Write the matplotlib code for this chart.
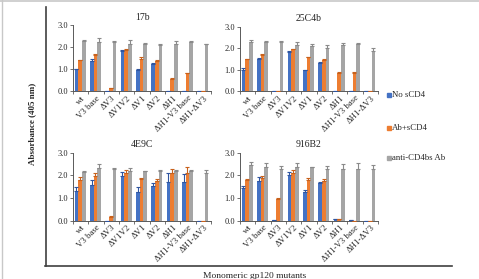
import numpy as np
import matplotlib
matplotlib.use("Agg")
import matplotlib.pyplot as plt
from matplotlib.lines import Line2D

plt.rcParams['font.family'] = ['Liberation Serif', 'DejaVu Serif']

mutants = ["wt", "V3 base", "\u0394V3", "\u0394V1V2", "\u0394V1", "\u0394V2",
           "\u0394H1", "\u0394H1-V3 base", "\u0394H1-\u0394V3"]
series_names = ["No sCD4", "Ab+sCD4", "anti-CD4bs Ab"]

# values per antibody panel: [no sCD4, Ab+sCD4, anti-CD4bs Ab]
v_17b = [
    [1.00, 1.39, 0.02, 1.83, 0.97, 1.23, 0.04, 0.02, 0.02],
    [1.42, 1.65, 0.18, 1.88, 1.47, 1.39, 0.58, 0.82, 0.02],
    [2.28, 2.25, 2.26, 2.18, 2.14, 2.13, 2.18, 2.26, 2.14],
]
e_17b = [
    [0.04, 0.08, 0.0, 0.05, 0.05, 0.05, 0.0, 0.0, 0.0],
    [0.02, 0.05, 0.0, 0.05, 0.08, 0.04, 0.03, 0.02, 0.0],
    [0.05, 0.18, 0.02, 0.14, 0.06, 0.02, 0.10, 0.02, 0.02],
]
v_25c4b = [
    [1.00, 1.48, 0.02, 1.83, 0.97, 1.33, 0.02, 0.02, 0.01],
    [1.50, 1.70, 0.02, 1.95, 1.58, 1.45, 0.85, 0.85, 0.01],
    [2.28, 2.28, 2.30, 2.15, 2.08, 2.03, 2.14, 2.18, 1.88],
]
e_25c4b = [
    [0.08, 0.06, 0.0, 0.04, 0.04, 0.04, 0.0, 0.0, 0.0],
    [0.02, 0.03, 0.0, 0.03, 0.03, 0.03, 0.06, 0.06, 0.0],
    [0.10, 0.06, 0.05, 0.12, 0.10, 0.10, 0.10, 0.06, 0.14],
]
v_4e9c = [
    [1.32, 1.59, 0.00, 1.97, 1.28, 1.54, 1.72, 1.70, 0.00],
    [1.78, 1.99, 0.18, 2.12, 1.82, 1.76, 2.09, 2.10, 0.00],
    [2.15, 2.32, 2.26, 2.20, 2.18, 2.18, 2.18, 2.18, 2.10],
]
e_4e9c = [
    [0.18, 0.20, 0.0, 0.16, 0.20, 0.12, 0.38, 0.38, 0.0],
    [0.16, 0.12, 0.02, 0.12, 0.08, 0.10, 0.18, 0.25, 0.0],
    [0.06, 0.16, 0.06, 0.12, 0.03, 0.04, 0.04, 0.04, 0.14],
]
v_916b2 = [
    [1.45, 1.76, 0.02, 2.00, 1.25, 1.65, 0.06, 0.02, 0.00],
    [1.80, 1.87, 0.96, 2.09, 1.80, 1.76, 0.08, 0.00, 0.00],
    [2.45, 2.38, 2.26, 2.35, 2.35, 2.26, 2.26, 2.30, 2.30],
]
e_916b2 = [
    [0.06, 0.15, 0.0, 0.16, 0.12, 0.04, 0.0, 0.0, 0.0],
    [0.04, 0.12, 0.04, 0.14, 0.10, 0.08, 0.0, 0.0, 0.0],
    [0.16, 0.18, 0.14, 0.20, 0.04, 0.14, 0.26, 0.24, 0.16],
]

titles = ["17b", "25C4b", "4E9C", "916B2"]
panel_vals = [v_17b, v_25c4b, v_4e9c, v_916b2]
panel_errs = [e_17b, e_25c4b, e_4e9c, e_916b2]

colors = ["#4472C4", "#ED7D31", "#A5A5A5"]
err_colors = ["#2F55A0", "#C8611C", "#8A8A8A"]
axis_col = "#595959"
text_col = "#262626"

W, H = 479, 279
fig = plt.figure(figsize=(W / 100, H / 100), dpi=100)

# axes boxes in pixels: (left, top of 3.0, right, bottom at 0.0)
boxes = [(73, 25.5, 211, 91.5), (240, 26.5, 378, 91.5),
         (73, 152.7, 211, 220.7), (240, 152.7, 378, 220.7)]

x = np.arange(len(mutants))
bw = 0.24
for k in range(4):
    l, t, r, b = boxes[k]
    ax = fig.add_axes([l / W, 1 - b / H, (r - l) / W, (b - t) / H])
    for i in range(3):
        pos = x + (i - 1) * bw - 0.04
        vals = np.array(panel_vals[k][i])
        errs = np.array(panel_errs[k][i])
        ax.bar(pos, vals, bw, color=colors[i], edgecolor="none", zorder=2)
        ax.errorbar(pos, vals, yerr=[np.zeros_like(errs), errs], fmt="none",
                    ecolor=err_colors[i], elinewidth=0.8, capsize=1.3,
                    capthick=0.8, zorder=3)
    ax.set_xlim(-0.5, len(mutants) - 0.5)
    ax.set_ylim(0, 3.0)
    ax.set_yticks([0, 1, 2, 3])
    ax.set_yticklabels(["0.0", "1.0", "2.0", "3.0"], fontsize=6, color=text_col)
    ax.set_xticks(x)
    ax.set_xticklabels(mutants, rotation=45, ha="right", rotation_mode="anchor",
                       fontsize=6.3, color=text_col)
    ax.tick_params(axis="x", length=0, pad=2)
    ax.set_xticks(np.arange(-0.5, len(mutants)), minor=True)
    ax.tick_params(axis="x", which="minor", length=2, color=axis_col, width=0.6)
    ax.tick_params(axis="y", length=2, color=axis_col, width=0.6, pad=1.5)
    for s in ["top", "right"]:
        ax.spines[s].set_visible(False)
    for s in ["left", "bottom"]:
        ax.spines[s].set_color(axis_col)
        ax.spines[s].set_linewidth(0.7)
    ax.set_facecolor("none")
    ax.text(0.5, 1.06, titles[k], transform=ax.transAxes, ha="center",
            va="bottom", fontsize=7, color=text_col)

# outer frame of the combined figure
fig.add_artist(Line2D([45.5 / W, 45.5 / W], [1 - 7 / H, 1 - 266 / H],
                      color="#404040", lw=1.2))
fig.add_artist(Line2D([45 / W, 452 / W], [1 - 266 / H, 1 - 266 / H],
                      color="#404040", lw=1.2))
fig.add_artist(Line2D([0, 1], [1 - 0.8 / H, 1 - 0.8 / H], color="#c8c8c8", lw=1.2))
fig.add_artist(Line2D([2 / W, 2 / W], [0, 1], color="#c8c8c8", lw=1.0))

fig.text(32 / W, 1 - 124 / H, "Absorbance (405 nm)", rotation=90, ha="center",
         va="center", fontsize=6.5, fontweight="bold", color=text_col)
fig.text(255 / W, 1 - 272 / H, "Monomeric gp120 mutants", ha="center", va="top",
         fontsize=6.8, color=text_col)

# legend entries
leg_y = [95, 128, 158]
for i in range(3):
    fig.add_artist(Line2D([388.5 / W], [1 - leg_y[i] / H], marker="s",
                          markersize=2.4, color=colors[i], lw=0))
    fig.text(392 / W, 1 - leg_y[i] / H, series_names[i], ha="left", va="center",
             fontsize=6.3, color=text_col)

fig.savefig("out.png", dpi=100)
